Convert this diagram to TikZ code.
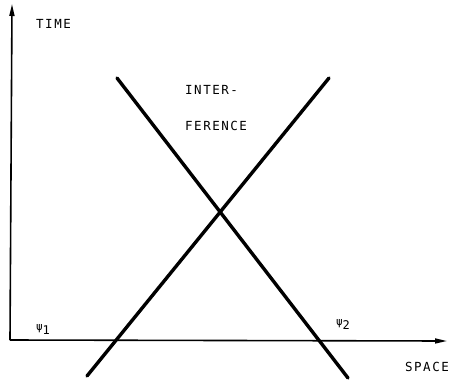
\documentclass[tikz,border=0pt]{standalone}
\usepackage{fontspec}
\newfontfamily\lab[LetterSpace=12]{DejaVu Sans Mono}
\newfontfamily\psifont{DejaVu Sans Mono}
\usetikzlibrary{arrows.meta}
\begin{document}
\begin{tikzpicture}[x=1pt,y=-1pt,
  axis/.style={line width=1.6pt,-{Triangle[length=12pt,width=5pt]}},
  wave/.style={line width=3.4pt,line cap=round},
  lbl/.style={font=\lab\fontsize{12.5}{14}\selectfont,inner sep=0pt,anchor=west},
  psi/.style={font=\psifont\fontsize{11}{13}\selectfont,inner sep=0pt}]
\useasboundingbox (0,0) rectangle (449,383);
\coordinate (o) at (10,340);
\coordinate (ytip) at (12,4);
\coordinate (xtip) at (447,341);
\draw[axis] (o) -- (ytip);
\draw[axis] (o) -- (xtip);
\coordinate (a1) at (117,78);
\coordinate (a2) at (348,378);
\coordinate (b1) at (329,78);
\coordinate (b2) at (87,376);
\draw[wave] (a1) -- (a2);
\draw[wave] (b1) -- (b2);
\node[lbl] (time) at (36,24) {TIME};
\node[lbl] (inter) at (185,90) {INTER-};
\node[lbl] (ference) at (185,126) {FERENCE};
\node[lbl,anchor=east] (space) at (449,367) {SPACE};
\node[psi] (p1) at (43,329) {ψ\raisebox{-4pt}{\fontsize{12}{13}\selectfont 1}};
\node[psi] (p2) at (343,324) {ψ\raisebox{-4pt}{\fontsize{12}{13}\selectfont 2}};
\end{tikzpicture}
\end{document}
